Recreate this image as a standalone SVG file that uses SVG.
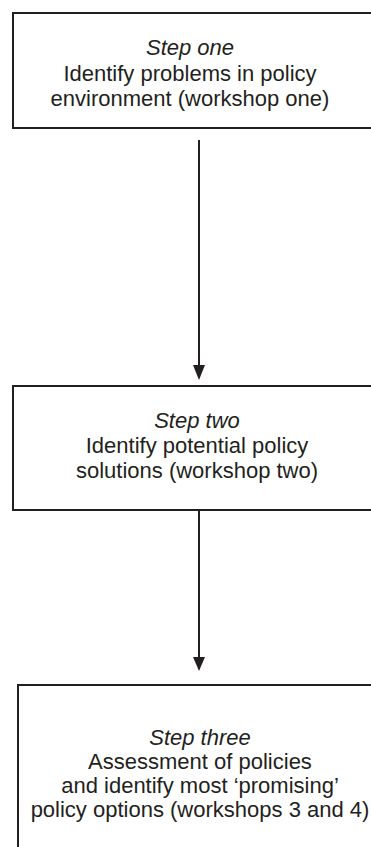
<svg xmlns="http://www.w3.org/2000/svg" width="371" height="847" viewBox="0 0 371 847">
<style>
.box{fill:#fff;stroke:#231f20;stroke-width:2}
.t{font-family:"Liberation Sans",Arial,sans-serif;font-size:22px;fill:#231f20;text-anchor:middle}
.i{font-style:italic}
.c{stroke:#231f20;stroke-width:2;fill:none}
.h{fill:#231f20}
</style>
<rect width="371" height="847" fill="#fff"/>
<g id="step1">
<rect class="box" x="13" y="13" width="380" height="115"/>
<text class="t i" x="190" y="55">Step one</text>
<text class="t" x="190" y="81">Identify problems in policy</text>
<text class="t" x="190" y="106">environment (workshop one)</text>
</g>
<g id="step2">
<rect class="box" x="13" y="386" width="380" height="124"/>
<text class="t i" x="197" y="428">Step two</text>
<text class="t" x="197" y="453">Identify potential policy</text>
<text class="t" x="197" y="478">solutions (workshop two)</text>
</g>
<g id="step3">
<rect class="box" x="18" y="685" width="380" height="200"/>
<text class="t i" x="200" y="745">Step three</text>
<text class="t" x="200" y="769">Assessment of policies</text>
<text class="t" x="200" y="793">and identify most ‘promising’</text>
<text class="t" x="200" y="817">policy options (workshops 3 and 4)</text>
</g>
<g id="connectors">
<line class="c" x1="199" y1="140" x2="199" y2="366"/>
<polygon class="h" points="193,365 205,365 199,380"/>
<line class="c" x1="199" y1="510" x2="199" y2="658"/>
<polygon class="h" points="193,657 205,657 199,671"/>
</g>
</svg>
